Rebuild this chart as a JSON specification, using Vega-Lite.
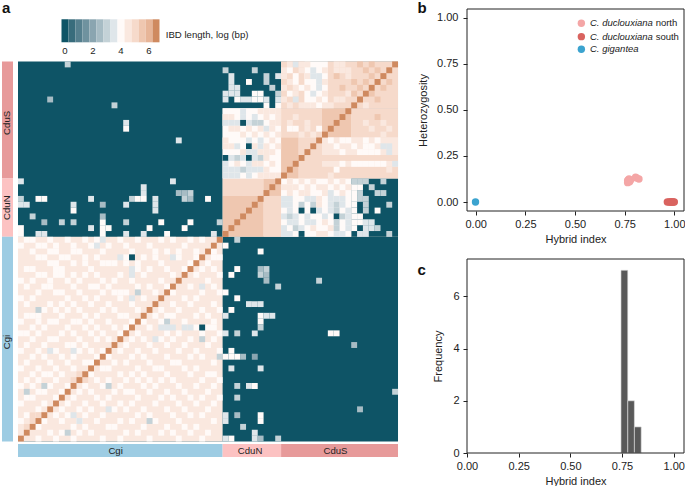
{"$schema":"https://vega.github.io/schema/vega-lite/v6.json","padding":0,"background":"white","spacing":7,"config":{"view":{"stroke":null},"font":"Liberation Sans"},
"datasets":{
"legendCells":[{"v":0,"a":-0.25,"b":0.25},{"v":0.5,"a":0.25,"b":0.75},{"v":1,"a":0.75,"b":1.25},{"v":1.5,"a":1.25,"b":1.75},{"v":2,"a":1.75,"b":2.25},{"v":2.5,"a":2.25,"b":2.75},{"v":3,"a":2.75,"b":3.25},{"v":3.5,"a":3.25,"b":3.75},{"v":4,"a":3.75,"b":4.25},{"v":4.5,"a":4.25,"b":4.75},{"v":5,"a":4.75,"b":5.25},{"v":5.5,"a":5.25,"b":5.75},{"v":6,"a":5.75,"b":6.25},{"v":6.5,"a":6.25,"b":6.75}],
"blocks":[{"a":-0.5,"b":64.5,"t":-0.5,"u":64.5,"v":0},{"a":34.5,"b":64.5,"t":7.5,"u":29.5,"v":4.5},{"a":44.5,"b":64.5,"t":-0.5,"u":7.5,"v":4.5},{"a":56.5,"b":64.5,"t":19.5,"u":29.5,"v":0},{"a":-0.5,"b":34.5,"t":29.5,"u":64.5,"v":4.5},{"a":34.5,"b":41.5,"t":19.5,"u":22.5,"v":5},{"a":41.5,"b":44.5,"t":19.5,"u":22.5,"v":5.5},{"a":34.5,"b":41.5,"t":22.5,"u":29.5,"v":5.5},{"a":41.5,"b":44.5,"t":22.5,"u":29.5,"v":5},{"a":34.5,"b":44.5,"t":7.5,"u":19.5,"v":4},{"a":44.5,"b":56.5,"t":19.5,"u":29.5,"v":4},{"a":44.5,"b":48.5,"t":-0.5,"u":7.5,"v":5},{"a":48.5,"b":52.5,"t":-0.5,"u":7.5,"v":4},{"a":52.5,"b":64.5,"t":-0.5,"u":7.5,"v":5},{"a":44.5,"b":51.5,"t":7.5,"u":12.5,"v":5},{"a":51.5,"b":56.5,"t":7.5,"u":12.5,"v":5.5},{"a":56.5,"b":64.5,"t":7.5,"u":12.5,"v":5},{"a":44.5,"b":47.5,"t":12.5,"u":19.5,"v":5.5},{"a":47.5,"b":51.5,"t":12.5,"u":19.5,"v":5},{"a":51.5,"b":64.5,"t":12.5,"u":15.5,"v":4.5},{"a":51.5,"b":64.5,"t":15.5,"u":16.5,"v":5},{"a":51.5,"b":64.5,"t":16.5,"u":17.5,"v":4.5},{"a":51.5,"b":64.5,"t":17.5,"u":19.5,"v":5}],
"cells":[
{"c":8,"t":0,"v":3},{"c":5,"t":6,"v":2.5},{"c":16,"t":7,"v":3},{"c":18,"t":10,"v":3.5},{"c":18,"t":11,"v":4},{"c":27,"t":13,"v":3.5},
{"c":0,"t":20,"v":3.5},{"c":26,"t":20,"v":3.5},{"c":21,"t":21,"v":3.5},{"c":21,"t":22,"v":3.5},{"c":27,"t":22,"v":2.5},{"c":28,"t":22,"v":2.5},{"c":29,"t":22,"v":3},{"c":0,"t":23,"v":3},{"c":3,"t":23,"v":4},{"c":4,"t":23,"v":4},{"c":12,"t":23,"v":3.5},{"c":19,"t":23,"v":3},{"c":20,"t":23,"v":4},{"c":21,"t":23,"v":4},{"c":23,"t":23,"v":3.5},{"c":28,"t":23,"v":3},{"c":29,"t":23,"v":2.5},{"c":32,"t":23,"v":4},{"c":0,"t":24,"v":3.5},{"c":1,"t":24,"v":3.5},{"c":9,"t":24,"v":3.5},{"c":14,"t":24,"v":2.5},{"c":18,"t":24,"v":3.5},{"c":23,"t":24,"v":3.5},{"c":9,"t":25,"v":4},{"c":23,"t":25,"v":3.5},{"c":2,"t":26,"v":3},{"c":14,"t":26,"v":2.5},{"c":4,"t":27,"v":2.5},{"c":7,"t":27,"v":3},{"c":9,"t":27,"v":3},{"c":14,"t":27,"v":4},{"c":18,"t":27,"v":3},{"c":24,"t":27,"v":4},{"c":29,"t":27,"v":4},{"c":34,"t":27,"v":3},{"c":0,"t":28,"v":4},{"c":12,"t":28,"v":3.5},{"c":14,"t":28,"v":4},{"c":15,"t":28,"v":4},{"c":22,"t":28,"v":4},{"c":28,"t":28,"v":4},{"c":0,"t":29,"v":4},{"c":3,"t":29,"v":3.5},{"c":4,"t":29,"v":3.5},{"c":14,"t":29,"v":4},{"c":18,"t":29,"v":3.5},{"c":21,"t":29,"v":3.5},{"c":25,"t":29,"v":4},{"c":33,"t":29,"v":3.5},
{"c":37,"t":30,"v":3},{"c":35,"t":31,"v":4},{"c":41,"t":32,"v":4},{"c":37,"t":35,"v":4},{"c":41,"t":35,"v":2.5},{"c":42,"t":35,"v":3},{"c":36,"t":36,"v":4},{"c":41,"t":36,"v":3},{"c":42,"t":36,"v":2.5},{"c":42,"t":37,"v":2.5},{"c":51,"t":37,"v":3},{"c":44,"t":38,"v":3},{"c":35,"t":39,"v":4},{"c":37,"t":40,"v":4},{"c":39,"t":41,"v":3.5},{"c":40,"t":41,"v":3.5},{"c":41,"t":41,"v":3.5},{"c":36,"t":42,"v":4},{"c":35,"t":43,"v":3.5},{"c":41,"t":43,"v":4},{"c":42,"t":43,"v":3.5},{"c":43,"t":43,"v":3.5},{"c":41,"t":44,"v":4},{"c":41,"t":45,"v":3},{"c":35,"t":46,"v":3.5},{"c":37,"t":46,"v":3},{"c":40,"t":46,"v":3.5},{"c":53,"t":46,"v":4},{"c":54,"t":46,"v":4},{"c":57,"t":48,"v":2.5},{"c":36,"t":49,"v":4},{"c":35,"t":50,"v":4},{"c":36,"t":50,"v":4},{"c":37,"t":50,"v":4},{"c":38,"t":50,"v":2.5},{"c":40,"t":50,"v":2},{"c":36,"t":52,"v":3.5},{"c":41,"t":52,"v":3.5},{"c":37,"t":55,"v":3},{"c":39,"t":55,"v":3.5},{"c":40,"t":55,"v":4},{"c":64,"t":56,"v":3},{"c":37,"t":57,"v":3},{"c":58,"t":59,"v":2.5},{"c":35,"t":60,"v":3.5},{"c":37,"t":60,"v":2.5},{"c":41,"t":60,"v":4},{"c":35,"t":61,"v":3.5},{"c":41,"t":61,"v":4},{"c":38,"t":62,"v":3},{"c":40,"t":63,"v":3.5},{"c":35,"t":64,"v":3.5},{"c":36,"t":64,"v":4},{"c":40,"t":64,"v":3.5},{"c":41,"t":64,"v":2.5},{"c":44,"t":64,"v":3},
{"c":35,"t":1,"v":3},{"c":40,"t":1,"v":3},{"c":44,"t":2,"v":3.5},{"c":42,"t":2,"v":3},{"c":42,"t":3,"v":3},{"c":36,"t":2,"v":3.5},{"c":36,"t":3,"v":3.5},{"c":39,"t":3,"v":4},{"c":36,"t":4,"v":3.5},{"c":37,"t":4,"v":3.5},{"c":43,"t":4,"v":3},{"c":35,"t":5,"v":3.5},{"c":36,"t":5,"v":3.5},{"c":37,"t":5,"v":3.5},{"c":40,"t":5,"v":4},{"c":41,"t":5,"v":4},{"c":44,"t":5,"v":3},{"c":35,"t":6,"v":3.5},{"c":37,"t":6,"v":4},{"c":38,"t":6,"v":3.5},{"c":39,"t":6,"v":3.5},{"c":40,"t":6,"v":4},{"c":41,"t":6,"v":4},{"c":42,"t":6,"v":3.5},{"c":44,"t":6,"v":3.5},{"c":42,"t":7,"v":4},{"c":44,"t":7,"v":4},
{"c":57,"t":20,"v":3},{"c":58,"t":20,"v":3},{"c":59,"t":20,"v":3},{"c":62,"t":20,"v":3},{"c":57,"t":21,"v":4},{"c":58,"t":21,"v":4},{"c":60,"t":21,"v":3},{"c":57,"t":22,"v":4},{"c":58,"t":22,"v":3},{"c":61,"t":22,"v":3},{"c":62,"t":22,"v":3},{"c":57,"t":23,"v":4},{"c":58,"t":23,"v":3},{"c":59,"t":23,"v":3},{"c":57,"t":24,"v":4},{"c":59,"t":24,"v":3},{"c":63,"t":24,"v":3},{"c":57,"t":25,"v":4},{"c":59,"t":25,"v":3},{"c":61,"t":25,"v":4},{"c":57,"t":26,"v":4},{"c":58,"t":26,"v":4},{"c":57,"t":27,"v":4},{"c":58,"t":27,"v":4},{"c":59,"t":27,"v":3.5},{"c":60,"t":27,"v":3.5},{"c":57,"t":28,"v":4},{"c":59,"t":28,"v":3.5},{"c":60,"t":28,"v":3.5},{"c":61,"t":28,"v":3},{"c":58,"t":29,"v":3.5},{"c":59,"t":29,"v":3.5},{"c":63,"t":29,"v":3},
{"c":38,"t":8,"v":3.5},{"c":41,"t":8,"v":4.5},{"c":42,"t":8,"v":4.5},{"c":43,"t":8,"v":4.5},{"c":44,"t":8,"v":4.5},{"c":35,"t":9,"v":4.5},{"c":36,"t":9,"v":4.5},{"c":38,"t":9,"v":3.5},{"c":40,"t":9,"v":3.5},{"c":42,"t":9,"v":4.5},{"c":44,"t":9,"v":4.5},{"c":35,"t":10,"v":3.5},{"c":36,"t":10,"v":3.5},{"c":37,"t":10,"v":3.5},{"c":38,"t":10,"v":0},{"c":39,"t":10,"v":3.5},{"c":40,"t":10,"v":3},{"c":41,"t":10,"v":3},{"c":43,"t":10,"v":4.5},{"c":44,"t":10,"v":4.5},{"c":36,"t":11,"v":4.5},{"c":37,"t":11,"v":4.5},{"c":39,"t":11,"v":4.5},{"c":41,"t":11,"v":4.5},{"c":42,"t":11,"v":3.5},{"c":43,"t":11,"v":4.5},{"c":38,"t":12,"v":4.5},{"c":40,"t":12,"v":4.5},{"c":42,"t":12,"v":4.5},{"c":44,"t":12,"v":4.5},{"c":35,"t":13,"v":4.5},{"c":39,"t":13,"v":3.5},{"c":41,"t":13,"v":3.5},{"c":43,"t":13,"v":4.5},{"c":35,"t":14,"v":4.5},{"c":36,"t":14,"v":4.5},{"c":37,"t":14,"v":3.5},{"c":39,"t":14,"v":0},{"c":40,"t":14,"v":4.5},{"c":41,"t":14,"v":3.5},{"c":42,"t":14,"v":4.5},{"c":44,"t":14,"v":4.5},{"c":38,"t":15,"v":4.5},{"c":39,"t":15,"v":3.5},{"c":40,"t":15,"v":3.5},{"c":41,"t":15,"v":4.5},{"c":42,"t":15,"v":4.5},{"c":43,"t":15,"v":4.5},{"c":35,"t":16,"v":0},{"c":36,"t":16,"v":3.5},{"c":37,"t":16,"v":3},{"c":38,"t":16,"v":3.5},{"c":39,"t":16,"v":0},{"c":40,"t":16,"v":3.5},{"c":41,"t":16,"v":3},{"c":42,"t":16,"v":4.5},{"c":35,"t":17,"v":3.5},{"c":37,"t":17,"v":4.5},{"c":39,"t":17,"v":3.5},{"c":40,"t":17,"v":4.5},{"c":41,"t":17,"v":4.5},{"c":43,"t":17,"v":4.5},{"c":35,"t":18,"v":3.5},{"c":36,"t":18,"v":3.5},{"c":37,"t":18,"v":3.5},{"c":38,"t":18,"v":3},{"c":39,"t":18,"v":3.5},{"c":40,"t":18,"v":3.5},{"c":41,"t":18,"v":3.5},{"c":42,"t":18,"v":4.5},{"c":35,"t":19,"v":3.5},{"c":36,"t":19,"v":3.5},{"c":37,"t":19,"v":3.5},{"c":39,"t":19,"v":3.5},{"c":41,"t":19,"v":4.5},{"c":42,"t":19,"v":4.5},{"c":43,"t":19,"v":4.5},{"c":44,"t":19,"v":4.5},
{"c":46,"t":20,"v":4.5},{"c":48,"t":20,"v":4.5},{"c":50,"t":20,"v":4.5},{"c":53,"t":20,"v":4.5},{"c":55,"t":20,"v":4.5},{"c":45,"t":21,"v":4.5},{"c":46,"t":21,"v":4.5},{"c":47,"t":21,"v":4.5},{"c":49,"t":21,"v":4.5},{"c":51,"t":21,"v":4.5},{"c":52,"t":21,"v":4.5},{"c":54,"t":21,"v":4.5},{"c":56,"t":21,"v":4.5},{"c":46,"t":22,"v":4.5},{"c":48,"t":22,"v":4.5},{"c":49,"t":22,"v":4.5},{"c":52,"t":22,"v":4.5},{"c":53,"t":22,"v":3.5},{"c":55,"t":22,"v":4.5},{"c":45,"t":23,"v":3.5},{"c":46,"t":23,"v":3.5},{"c":49,"t":23,"v":3.5},{"c":50,"t":23,"v":3.5},{"c":51,"t":23,"v":4.5},{"c":53,"t":23,"v":3.5},{"c":54,"t":23,"v":3.5},{"c":55,"t":23,"v":3.5},{"c":45,"t":24,"v":3.5},{"c":46,"t":24,"v":3.5},{"c":48,"t":24,"v":3},{"c":50,"t":24,"v":3},{"c":51,"t":24,"v":4.5},{"c":53,"t":24,"v":3.5},{"c":54,"t":24,"v":3},{"c":55,"t":24,"v":3.5},{"c":46,"t":25,"v":3.5},{"c":48,"t":25,"v":0},{"c":50,"t":25,"v":0},{"c":51,"t":25,"v":3.5},{"c":53,"t":25,"v":3.5},{"c":54,"t":25,"v":3},{"c":56,"t":25,"v":3.5},{"c":45,"t":26,"v":3.5},{"c":46,"t":26,"v":3},{"c":47,"t":26,"v":3.5},{"c":49,"t":26,"v":3.5},{"c":52,"t":26,"v":3.5},{"c":54,"t":26,"v":0},{"c":55,"t":26,"v":3},{"c":56,"t":26,"v":3.5},{"c":46,"t":27,"v":3.5},{"c":47,"t":27,"v":3.5},{"c":49,"t":27,"v":3.5},{"c":50,"t":27,"v":3.5},{"c":52,"t":27,"v":4.5},{"c":54,"t":27,"v":3},{"c":56,"t":27,"v":3.5},{"c":45,"t":28,"v":3.5},{"c":47,"t":28,"v":3},{"c":48,"t":28,"v":3.5},{"c":50,"t":28,"v":4.5},{"c":53,"t":28,"v":4.5},{"c":54,"t":28,"v":3},{"c":56,"t":28,"v":3.5},{"c":45,"t":29,"v":3.5},{"c":46,"t":29,"v":3.5},{"c":48,"t":29,"v":0},{"c":51,"t":29,"v":4.5},{"c":52,"t":29,"v":4.5},{"c":54,"t":29,"v":3.5},{"c":55,"t":29,"v":3.5},
{"c":46,"t":0,"v":4.5},{"c":47,"t":0,"v":3.5},{"c":48,"t":0,"v":4.5},{"c":45,"t":1,"v":4.5},{"c":46,"t":1,"v":4},{"c":48,"t":1,"v":4.5},{"c":47,"t":2,"v":4},{"c":45,"t":2,"v":4.5},{"c":46,"t":3,"v":4.5},{"c":47,"t":3,"v":4},{"c":45,"t":4,"v":4.5},{"c":47,"t":4,"v":4.5},{"c":48,"t":4,"v":4},{"c":46,"t":5,"v":4},{"c":47,"t":5,"v":4.5},{"c":45,"t":6,"v":4.5},{"c":47,"t":6,"v":3.5},{"c":46,"t":7,"v":4.5},{"c":48,"t":7,"v":4.5},{"c":49,"t":0,"v":4.5},{"c":50,"t":1,"v":3.5},{"c":52,"t":1,"v":4.5},{"c":49,"t":2,"v":4.5},{"c":50,"t":2,"v":3.5},{"c":51,"t":2,"v":3.5},{"c":51,"t":3,"v":3.5},{"c":52,"t":3,"v":4.5},{"c":49,"t":4,"v":4.5},{"c":51,"t":4,"v":3.5},{"c":50,"t":5,"v":3.5},{"c":52,"t":5,"v":4.5},{"c":51,"t":6,"v":4.5},{"c":49,"t":7,"v":4.5},{"c":50,"t":7,"v":4.5},{"c":52,"t":7,"v":4.5},
{"c":54,"t":0,"v":4.5},{"c":55,"t":0,"v":4.5},{"c":58,"t":0,"v":5.5},{"c":60,"t":0,"v":5.5},{"c":54,"t":1,"v":4.5},{"c":55,"t":1,"v":4.5},{"c":56,"t":1,"v":4.5},{"c":59,"t":1,"v":5.5},{"c":61,"t":1,"v":5.5},{"c":54,"t":2,"v":5.5},{"c":56,"t":2,"v":4.5},{"c":60,"t":2,"v":5.5},{"c":62,"t":2,"v":5.5},{"c":57,"t":3,"v":5.5},{"c":59,"t":3,"v":5.5},{"c":61,"t":3,"v":5.5},{"c":63,"t":3,"v":5.5},{"c":55,"t":4,"v":5.5},{"c":58,"t":4,"v":5.5},{"c":62,"t":4,"v":5.5},{"c":56,"t":5,"v":4.5},{"c":57,"t":5,"v":5.5},{"c":60,"t":5,"v":5.5},{"c":54,"t":6,"v":4.5},{"c":55,"t":6,"v":4.5},{"c":58,"t":6,"v":5.5},{"c":61,"t":6,"v":5.5},{"c":53,"t":7,"v":4.5},{"c":59,"t":7,"v":4.5},
{"c":47,"t":9,"v":4.5},{"c":61,"t":9,"v":5.5},{"c":46,"t":10,"v":4.5},{"c":49,"t":10,"v":4.5},{"c":59,"t":10,"v":4.5},{"c":62,"t":10,"v":4.5},{"c":46,"t":11,"v":4},{"c":47,"t":11,"v":4},{"c":49,"t":11,"v":4.5},{"c":51,"t":11,"v":4},{"c":60,"t":11,"v":4.5},{"c":63,"t":11,"v":4.5},{"c":48,"t":12,"v":4.5},{"c":50,"t":12,"v":4.5},{"c":62,"t":12,"v":4.5},
{"c":53,"t":13,"v":4},{"c":55,"t":13,"v":4},{"c":56,"t":13,"v":4},{"c":59,"t":13,"v":4},{"c":61,"t":13,"v":4},{"c":54,"t":14,"v":4},{"c":57,"t":14,"v":4},{"c":59,"t":14,"v":4},{"c":60,"t":14,"v":4},{"c":62,"t":14,"v":3.5},{"c":63,"t":14,"v":3.5},{"c":55,"t":15,"v":4},{"c":58,"t":15,"v":4},{"c":59,"t":15,"v":4},{"c":60,"t":15,"v":4},{"c":61,"t":15,"v":4},{"c":63,"t":15,"v":3.5},{"c":55,"t":17,"v":4},{"c":57,"t":17,"v":4},{"c":58,"t":17,"v":4},{"c":59,"t":17,"v":4},{"c":60,"t":17,"v":4},{"c":61,"t":17,"v":4},{"c":62,"t":17,"v":4},{"c":64,"t":17,"v":3.5},{"c":54,"t":18,"v":4},{"c":63,"t":18,"v":4.5},{"c":53,"t":19,"v":4.5},
{"c":1,"t":30,"v":4},{"c":2,"t":30,"v":4},{"c":5,"t":30,"v":4},{"c":8,"t":30,"v":4},{"c":11,"t":30,"v":4},{"c":13,"t":30,"v":4},{"c":17,"t":30,"v":4},{"c":20,"t":30,"v":4},{"c":24,"t":30,"v":4},{"c":26,"t":30,"v":4},{"c":29,"t":30,"v":4},{"c":31,"t":30,"v":4},
{"c":0,"t":31,"v":4},{"c":3,"t":31,"v":4},{"c":4,"t":31,"v":4},{"c":6,"t":31,"v":4},{"c":9,"t":31,"v":4},{"c":12,"t":31,"v":4},{"c":15,"t":31,"v":4},{"c":18,"t":31,"v":4},{"c":22,"t":31,"v":4},{"c":28,"t":31,"v":4},{"c":33,"t":31,"v":4},
{"c":2,"t":32,"v":4},{"c":5,"t":32,"v":4},{"c":6,"t":32,"v":4},{"c":9,"t":32,"v":4},{"c":10,"t":32,"v":4},{"c":14,"t":32,"v":4},{"c":19,"t":32,"v":4},{"c":23,"t":32,"v":4},{"c":25,"t":32,"v":4},{"c":27,"t":32,"v":4},{"c":30,"t":32,"v":4},{"c":32,"t":32,"v":4},{"c":33,"t":32,"v":4},
{"c":3,"t":33,"v":4},{"c":4,"t":33,"v":4},{"c":7,"t":33,"v":4},{"c":8,"t":33,"v":4},{"c":11,"t":33,"v":4},{"c":13,"t":33,"v":4},{"c":18,"t":33,"v":4},{"c":21,"t":33,"v":4},{"c":23,"t":33,"v":4},{"c":27,"t":33,"v":4},{"c":30,"t":33,"v":4},{"c":33,"t":33,"v":4},{"c":34,"t":33,"v":4},
{"c":5,"t":34,"v":4},{"c":6,"t":34,"v":4},{"c":9,"t":34,"v":4},{"c":11,"t":34,"v":4},{"c":14,"t":34,"v":4},{"c":15,"t":34,"v":4},{"c":16,"t":34,"v":4},{"c":18,"t":34,"v":4},{"c":20,"t":34,"v":4},{"c":24,"t":34,"v":4},{"c":29,"t":34,"v":4},{"c":32,"t":34,"v":4},
{"c":1,"t":35,"v":4},{"c":2,"t":35,"v":4},{"c":6,"t":35,"v":4},{"c":7,"t":35,"v":4},{"c":12,"t":35,"v":4},{"c":20,"t":35,"v":4},{"c":22,"t":35,"v":4},{"c":25,"t":35,"v":4},{"c":28,"t":35,"v":4},{"c":31,"t":35,"v":4},{"c":33,"t":35,"v":4},
{"c":3,"t":36,"v":4},{"c":4,"t":36,"v":4},{"c":6,"t":36,"v":4},{"c":7,"t":36,"v":4},{"c":9,"t":36,"v":4},{"c":11,"t":36,"v":4},{"c":13,"t":36,"v":4},{"c":17,"t":36,"v":4},{"c":21,"t":36,"v":4},{"c":26,"t":36,"v":4},{"c":30,"t":36,"v":4},{"c":34,"t":36,"v":4},
{"c":0,"t":37,"v":4},{"c":2,"t":37,"v":4},{"c":5,"t":37,"v":4},{"c":8,"t":37,"v":4},{"c":10,"t":37,"v":4},{"c":14,"t":37,"v":4},{"c":16,"t":37,"v":4},{"c":19,"t":37,"v":4},{"c":24,"t":37,"v":4},{"c":27,"t":37,"v":4},{"c":32,"t":37,"v":4},
{"c":1,"t":38,"v":4},{"c":4,"t":38,"v":4},{"c":5,"t":38,"v":4},{"c":9,"t":38,"v":4},{"c":12,"t":38,"v":4},{"c":13,"t":38,"v":4},{"c":15,"t":38,"v":4},{"c":20,"t":38,"v":4},{"c":22,"t":38,"v":4},{"c":25,"t":38,"v":4},{"c":29,"t":38,"v":4},{"c":33,"t":38,"v":4},
{"c":3,"t":39,"v":4},{"c":6,"t":39,"v":4},{"c":7,"t":39,"v":4},{"c":10,"t":39,"v":4},{"c":14,"t":39,"v":4},{"c":16,"t":39,"v":4},{"c":17,"t":39,"v":4},{"c":18,"t":39,"v":4},{"c":23,"t":39,"v":4},{"c":26,"t":39,"v":4},{"c":31,"t":39,"v":4},{"c":34,"t":39,"v":4},
{"c":0,"t":40,"v":4},{"c":2,"t":40,"v":4},{"c":8,"t":40,"v":4},{"c":11,"t":40,"v":4},{"c":13,"t":40,"v":4},{"c":17,"t":40,"v":4},{"c":21,"t":40,"v":4},{"c":24,"t":40,"v":4},{"c":28,"t":40,"v":4},{"c":30,"t":40,"v":4},
{"c":1,"t":41,"v":4},{"c":5,"t":41,"v":4},{"c":7,"t":41,"v":4},{"c":9,"t":41,"v":4},{"c":12,"t":41,"v":4},{"c":15,"t":41,"v":4},{"c":19,"t":41,"v":4},{"c":23,"t":41,"v":4},{"c":26,"t":41,"v":4},{"c":29,"t":41,"v":4},{"c":33,"t":41,"v":4},
{"c":4,"t":42,"v":4},{"c":6,"t":42,"v":4},{"c":8,"t":42,"v":4},{"c":10,"t":42,"v":4},{"c":14,"t":42,"v":4},{"c":16,"t":42,"v":4},{"c":20,"t":42,"v":4},{"c":22,"t":42,"v":4},{"c":24,"t":42,"v":4},{"c":27,"t":42,"v":4},{"c":31,"t":42,"v":4},{"c":34,"t":42,"v":4},
{"c":1,"t":43,"v":4},{"c":2,"t":43,"v":4},{"c":3,"t":43,"v":4},{"c":7,"t":43,"v":4},{"c":11,"t":43,"v":4},{"c":13,"t":43,"v":4},{"c":17,"t":43,"v":4},{"c":18,"t":43,"v":4},{"c":23,"t":43,"v":4},{"c":25,"t":43,"v":4},{"c":26,"t":43,"v":4},{"c":30,"t":43,"v":4},{"c":32,"t":43,"v":4},
{"c":0,"t":44,"v":4},{"c":3,"t":44,"v":4},{"c":5,"t":44,"v":4},{"c":6,"t":44,"v":4},{"c":9,"t":44,"v":4},{"c":10,"t":44,"v":4},{"c":12,"t":44,"v":4},{"c":15,"t":44,"v":4},{"c":19,"t":44,"v":4},{"c":21,"t":44,"v":4},{"c":24,"t":44,"v":4},{"c":28,"t":44,"v":4},{"c":33,"t":44,"v":4},
{"c":2,"t":45,"v":4},{"c":4,"t":45,"v":4},{"c":8,"t":45,"v":4},{"c":11,"t":45,"v":4},{"c":13,"t":45,"v":4},{"c":16,"t":45,"v":4},{"c":18,"t":45,"v":4},{"c":22,"t":45,"v":4},{"c":30,"t":45,"v":4},{"c":32,"t":45,"v":4},{"c":33,"t":45,"v":4},
{"c":0,"t":46,"v":4},{"c":1,"t":46,"v":4},{"c":3,"t":46,"v":4},{"c":7,"t":46,"v":4},{"c":9,"t":46,"v":4},{"c":12,"t":46,"v":4},{"c":14,"t":46,"v":4},{"c":17,"t":46,"v":4},{"c":20,"t":46,"v":4},{"c":25,"t":46,"v":4},{"c":27,"t":46,"v":4},{"c":31,"t":46,"v":4},{"c":34,"t":46,"v":4},
{"c":2,"t":47,"v":4},{"c":5,"t":47,"v":4},{"c":6,"t":47,"v":4},{"c":10,"t":47,"v":4},{"c":13,"t":47,"v":4},{"c":15,"t":47,"v":4},{"c":19,"t":47,"v":4},{"c":21,"t":47,"v":4},{"c":24,"t":47,"v":4},{"c":26,"t":47,"v":4},{"c":29,"t":47,"v":4},{"c":33,"t":47,"v":4},
{"c":1,"t":48,"v":4},{"c":4,"t":48,"v":4},{"c":8,"t":48,"v":4},{"c":9,"t":48,"v":4},{"c":11,"t":48,"v":4},{"c":16,"t":48,"v":4},{"c":18,"t":48,"v":4},{"c":22,"t":48,"v":4},{"c":25,"t":48,"v":4},{"c":28,"t":48,"v":4},{"c":32,"t":48,"v":4},
{"c":0,"t":49,"v":4},{"c":3,"t":49,"v":4},{"c":6,"t":49,"v":4},{"c":10,"t":49,"v":4},{"c":12,"t":49,"v":4},{"c":14,"t":49,"v":4},{"c":17,"t":49,"v":4},{"c":20,"t":49,"v":4},{"c":23,"t":49,"v":4},{"c":27,"t":49,"v":4},{"c":30,"t":49,"v":4},{"c":34,"t":49,"v":4},
{"c":2,"t":50,"v":4},{"c":4,"t":50,"v":4},{"c":7,"t":50,"v":4},{"c":9,"t":50,"v":4},{"c":13,"t":50,"v":4},{"c":15,"t":50,"v":4},{"c":19,"t":50,"v":4},{"c":21,"t":50,"v":4},{"c":25,"t":50,"v":4},{"c":29,"t":50,"v":4},{"c":31,"t":50,"v":4},
{"c":1,"t":51,"v":4},{"c":5,"t":51,"v":4},{"c":8,"t":51,"v":4},{"c":11,"t":51,"v":4},{"c":12,"t":51,"v":4},{"c":16,"t":51,"v":4},{"c":18,"t":51,"v":4},{"c":22,"t":51,"v":4},{"c":26,"t":51,"v":4},{"c":27,"t":51,"v":4},{"c":33,"t":51,"v":4},
{"c":0,"t":52,"v":4},{"c":3,"t":52,"v":4},{"c":6,"t":52,"v":4},{"c":9,"t":52,"v":4},{"c":14,"t":52,"v":4},{"c":15,"t":52,"v":4},{"c":20,"t":52,"v":4},{"c":23,"t":52,"v":4},{"c":24,"t":52,"v":4},{"c":28,"t":52,"v":4},{"c":30,"t":52,"v":4},
{"c":2,"t":53,"v":4},{"c":4,"t":53,"v":4},{"c":5,"t":53,"v":4},{"c":7,"t":53,"v":4},{"c":12,"t":53,"v":4},{"c":17,"t":53,"v":4},{"c":19,"t":53,"v":4},{"c":21,"t":53,"v":4},{"c":25,"t":53,"v":4},{"c":29,"t":53,"v":4},{"c":32,"t":53,"v":4},{"c":33,"t":53,"v":4},
{"c":1,"t":54,"v":4},{"c":3,"t":54,"v":4},{"c":6,"t":54,"v":4},{"c":13,"t":54,"v":4},{"c":15,"t":54,"v":4},{"c":18,"t":54,"v":4},{"c":20,"t":54,"v":4},{"c":22,"t":54,"v":4},{"c":24,"t":54,"v":4},{"c":26,"t":54,"v":4},{"c":31,"t":54,"v":4},{"c":34,"t":54,"v":4},
{"c":0,"t":55,"v":4},{"c":2,"t":55,"v":4},{"c":5,"t":55,"v":4},{"c":8,"t":55,"v":4},{"c":11,"t":55,"v":4},{"c":14,"t":55,"v":4},{"c":17,"t":55,"v":4},{"c":21,"t":55,"v":4},{"c":23,"t":55,"v":4},{"c":27,"t":55,"v":4},{"c":30,"t":55,"v":4},{"c":33,"t":55,"v":4},
{"c":3,"t":56,"v":4},{"c":4,"t":56,"v":4},{"c":7,"t":56,"v":4},{"c":10,"t":56,"v":4},{"c":12,"t":56,"v":4},{"c":16,"t":56,"v":4},{"c":18,"t":56,"v":4},{"c":19,"t":56,"v":4},{"c":22,"t":56,"v":4},{"c":25,"t":56,"v":4},{"c":28,"t":56,"v":4},{"c":32,"t":56,"v":4},
{"c":1,"t":57,"v":4},{"c":2,"t":57,"v":4},{"c":6,"t":57,"v":4},{"c":9,"t":57,"v":4},{"c":13,"t":57,"v":4},{"c":15,"t":57,"v":4},{"c":20,"t":57,"v":4},{"c":24,"t":57,"v":4},{"c":26,"t":57,"v":4},{"c":29,"t":57,"v":4},{"c":31,"t":57,"v":4},{"c":34,"t":57,"v":4},
{"c":0,"t":58,"v":4},{"c":4,"t":58,"v":4},{"c":8,"t":58,"v":4},{"c":11,"t":58,"v":4},{"c":14,"t":58,"v":4},{"c":17,"t":58,"v":4},{"c":19,"t":58,"v":4},{"c":23,"t":58,"v":4},{"c":27,"t":58,"v":4},{"c":30,"t":58,"v":4},{"c":33,"t":58,"v":4},
{"c":3,"t":59,"v":4},{"c":5,"t":59,"v":4},{"c":7,"t":59,"v":4},{"c":10,"t":59,"v":4},{"c":12,"t":59,"v":4},{"c":16,"t":59,"v":4},{"c":18,"t":59,"v":4},{"c":21,"t":59,"v":4},{"c":25,"t":59,"v":4},{"c":28,"t":59,"v":4},{"c":32,"t":59,"v":4},
{"c":1,"t":60,"v":4},{"c":2,"t":60,"v":4},{"c":6,"t":60,"v":4},{"c":8,"t":60,"v":4},{"c":11,"t":60,"v":4},{"c":14,"t":60,"v":4},{"c":20,"t":60,"v":4},{"c":22,"t":60,"v":4},{"c":26,"t":60,"v":4},{"c":29,"t":60,"v":4},{"c":31,"t":60,"v":4},
{"c":0,"t":61,"v":4},{"c":4,"t":61,"v":4},{"c":7,"t":61,"v":4},{"c":10,"t":61,"v":4},{"c":13,"t":61,"v":4},{"c":17,"t":61,"v":4},{"c":19,"t":61,"v":4},{"c":23,"t":61,"v":4},{"c":27,"t":61,"v":4},{"c":33,"t":61,"v":4},
{"c":2,"t":62,"v":4},{"c":3,"t":62,"v":4},{"c":9,"t":62,"v":4},{"c":11,"t":62,"v":4},{"c":15,"t":62,"v":4},{"c":16,"t":62,"v":4},{"c":21,"t":62,"v":4},{"c":25,"t":62,"v":4},{"c":28,"t":62,"v":4},{"c":30,"t":62,"v":4},
{"c":1,"t":63,"v":4},{"c":5,"t":63,"v":4},{"c":7,"t":63,"v":4},{"c":10,"t":63,"v":4},{"c":12,"t":63,"v":4},{"c":18,"t":63,"v":4},{"c":20,"t":63,"v":4},{"c":24,"t":63,"v":4},{"c":26,"t":63,"v":4},{"c":29,"t":63,"v":4},{"c":32,"t":63,"v":4},
{"c":0,"t":64,"v":4},{"c":3,"t":64,"v":4},{"c":6,"t":64,"v":4},{"c":9,"t":64,"v":4},{"c":14,"t":64,"v":4},{"c":17,"t":64,"v":4},{"c":22,"t":64,"v":4},{"c":27,"t":64,"v":4},{"c":31,"t":64,"v":4},
{"c":14,"t":30,"v":3.5},{"c":13,"t":31,"v":3.5},{"c":17,"t":33,"v":3.5},{"c":26,"t":33,"v":3.5},{"c":19,"t":33,"v":0},{"c":19,"t":35,"v":3.5},{"c":19,"t":36,"v":3.5},{"c":31,"t":38,"v":3.5},{"c":20,"t":39,"v":3},{"c":19,"t":40,"v":3.5},{"c":3,"t":42,"v":3},{"c":25,"t":44,"v":3},{"c":24,"t":45,"v":3.5},{"c":25,"t":45,"v":3.5},{"c":26,"t":45,"v":3.5},{"c":28,"t":45,"v":3.5},{"c":29,"t":45,"v":3.5},{"c":31,"t":45,"v":0},{"c":23,"t":47,"v":3.5},{"c":31,"t":47,"v":3},{"c":5,"t":49,"v":3.5},{"c":9,"t":49,"v":3.5},{"c":34,"t":50,"v":3},{"c":4,"t":55,"v":3},{"c":15,"t":55,"v":3},{"c":1,"t":56,"v":3},{"c":15,"t":59,"v":3.5},{"c":9,"t":60,"v":3.5},{"c":10,"t":61,"v":3.5},{"c":22,"t":61,"v":3},{"c":8,"t":63,"v":3},{"c":10,"t":53,"v":5},{"c":11,"t":53,"v":5},{"c":9,"t":54,"v":5},{"c":11,"t":54,"v":5},{"c":2,"t":60,"v":5},{"c":3,"t":60,"v":5},{"c":2,"t":61,"v":5},{"c":1,"t":62,"v":5},
{"c":64,"t":0,"v":6.5},{"c":63,"t":1,"v":6.5},{"c":62,"t":2,"v":6.5},{"c":61,"t":3,"v":6.5},{"c":60,"t":4,"v":6.5},{"c":59,"t":5,"v":6.5},{"c":58,"t":6,"v":6.5},{"c":57,"t":7,"v":6.5},{"c":56,"t":8,"v":6.5},{"c":55,"t":9,"v":6.5},{"c":54,"t":10,"v":6.5},{"c":53,"t":11,"v":6.5},{"c":52,"t":12,"v":6.5},{"c":51,"t":13,"v":6.5},{"c":50,"t":14,"v":6.5},{"c":49,"t":15,"v":6.5},{"c":48,"t":16,"v":6.5},{"c":47,"t":17,"v":6.5},{"c":46,"t":18,"v":6.5},{"c":45,"t":19,"v":6.5},{"c":44,"t":20,"v":6.5},{"c":43,"t":21,"v":6.5},{"c":42,"t":22,"v":6.5},{"c":41,"t":23,"v":6.5},{"c":40,"t":24,"v":6.5},{"c":39,"t":25,"v":6.5},{"c":38,"t":26,"v":6.5},{"c":37,"t":27,"v":6.5},{"c":36,"t":28,"v":6.5},{"c":35,"t":29,"v":6.5},{"c":34,"t":30,"v":6.5},{"c":33,"t":31,"v":6.5},{"c":32,"t":32,"v":6.5},{"c":31,"t":33,"v":6.5},{"c":30,"t":34,"v":6.5},{"c":29,"t":35,"v":6.5},{"c":28,"t":36,"v":6.5},{"c":27,"t":37,"v":6.5},{"c":26,"t":38,"v":6.5},{"c":25,"t":39,"v":6.5},{"c":24,"t":40,"v":6.5},{"c":23,"t":41,"v":6.5},{"c":22,"t":42,"v":6.5},{"c":21,"t":43,"v":6.5},{"c":20,"t":44,"v":6.5},{"c":19,"t":45,"v":6.5},{"c":18,"t":46,"v":6.5},{"c":17,"t":47,"v":6.5},{"c":16,"t":48,"v":6.5},{"c":15,"t":49,"v":6.5},{"c":14,"t":50,"v":6.5},{"c":13,"t":51,"v":6.5},{"c":12,"t":52,"v":6.5},{"c":11,"t":53,"v":6.5},{"c":10,"t":54,"v":6.5},{"c":9,"t":55,"v":6.5},{"c":8,"t":56,"v":6.5},{"c":7,"t":57,"v":6.5},{"c":6,"t":58,"v":6.5},{"c":5,"t":59,"v":6.5},{"c":4,"t":60,"v":6.5},{"c":3,"t":61,"v":6.5},{"c":2,"t":62,"v":6.5},{"c":1,"t":63,"v":6.5},{"c":0,"t":64,"v":6.5}],
"bars":[{"s":"CduS","a":-3.237,"b":-1.355,"t":-0.5,"u":19.5},{"s":"CduN","a":-3.237,"b":-1.355,"t":19.5,"u":29.5},{"s":"Cgi","a":-3.237,"b":-1.355,"t":29.5,"u":64.5},{"s":"Cgi","a":-0.5,"b":34.5,"t":64.93,"u":67.15},{"s":"CduN","a":34.5,"b":44.5,"t":64.93,"u":67.15},{"s":"CduS","a":44.5,"b":64.5,"t":64.93,"u":67.15}],
"barLabels":[{"s":"CduS","x":-2.3,"y":10,"r":270},{"s":"CduN","x":-2.3,"y":24.5,"r":270},{"s":"Cgi","x":-2.3,"y":47.5,"r":270},{"s":"Cgi","x":16.2,"y":66.05,"r":0},{"s":"CduN","x":39.2,"y":66.05,"r":0},{"s":"CduS","x":53.8,"y":66.05,"r":0}],
"points":[{"sp":"north","hi":0.765,"h":0.105},{"sp":"north","hi":0.77,"h":0.115},{"sp":"north","hi":0.768,"h":0.12},{"sp":"north","hi":0.775,"h":0.11},{"sp":"north","hi":0.772,"h":0.125},{"sp":"north","hi":0.78,"h":0.12},{"sp":"north","hi":0.765,"h":0.115},{"sp":"north","hi":0.805,"h":0.135},{"sp":"north","hi":0.81,"h":0.13},{"sp":"north","hi":0.822,"h":0.125},{"sp":"south","hi":0.965,"h":0},{"sp":"south","hi":0.975,"h":0},{"sp":"south","hi":0.98,"h":0},{"sp":"south","hi":0.985,"h":0},{"sp":"south","hi":0.99,"h":0},{"sp":"south","hi":0.995,"h":0},{"sp":"south","hi":1,"h":0},{"sp":"gigantea","hi":-0.001,"h":0},{"sp":"north","hi":0.532,"h":0.97},{"sp":"south","hi":0.532,"h":0.897},{"sp":"gigantea","hi":0.532,"h":0.829}],
"legendText":[{"l":"C. duclouxiana","hi":0.5755,"h":0.97},{"l":"C. duclouxiana","hi":0.5755,"h":0.897},{"l":"C. gigantea","hi":0.5755,"h":0.829}],
"legendText2":[{"l":"north","hi":0.906,"h":0.97},{"l":"south","hi":0.906,"h":0.897}],
"hist":[{"a":0.745,"b":0.778,"n":7},{"a":0.778,"b":0.81,"n":2},{"a":0.81,"b":0.843,"n":1}]
},
"hconcat":[
{"spacing":0,"vconcat":[
{"width":410,"height":52,"layer":[
{"data":{"name":"legendCells"},"mark":{"type":"rect"},"encoding":{"x":{"field":"a","type":"quantitative","scale":{"domain":[-4.643,24.643],"nice":false,"zero":false},"axis":null},"x2":{"field":"b"},"y":{"datum":18.3,"type":"quantitative","scale":{"domain":[8,60],"reverse":true,"nice":false,"zero":false},"axis":null},"y2":{"datum":41.3},"color":{"field":"v","type":"ordinal","legend":null,"scale":{"domain":[0,0.5,1,1.5,2,2.5,3,3.5,4,4.5,5,5.5,6,6.5],"range":["#0e5466","#386c7c","#557f8e","#6f929f","#8aa5b0","#a7bcc4","#c4d2d7","#dfe6ea","#fffaf8","#fae8df","#f6dacb","#efc7b0","#e7b598","#cf8a60"]}}}},
{"data":{"values":[{"v":0,"l":"0"},{"v":2,"l":"2"},{"v":4,"l":"4"},{"v":6,"l":"6"}]},"mark":{"type":"text","fontSize":9.6,"color":"#222","align":"center","baseline":"middle"},"encoding":{"x":{"field":"v","type":"quantitative"},"y":{"datum":49.5,"type":"quantitative"},"text":{"field":"l"}}},
{"data":{"values":[{"x":7.2,"l":"IBD length, log (bp)"}]},"mark":{"type":"text","fontSize":9.6,"color":"#222","align":"left","baseline":"middle"},"encoding":{"x":{"field":"x","type":"quantitative"},"y":{"datum":34,"type":"quantitative"},"text":{"field":"l"}}},
{"data":{"values":[{"x":-4.5,"l":"a"}]},"mark":{"type":"text","fontSize":15,"fontWeight":"bold","color":"#111","align":"left","baseline":"alphabetic"},"encoding":{"x":{"field":"x","type":"quantitative"},"y":{"datum":12,"type":"quantitative"},"text":{"field":"l"}}}
]},
{"width":410,"height":400,"layer":[
{"data":{"name":"blocks"},"mark":{"type":"rect"},"encoding":{"x":{"field":"a","type":"quantitative","scale":{"domain":[-3.579,66.55],"nice":false,"zero":false},"axis":null},"x2":{"field":"b"},"y":{"field":"t","type":"quantitative","scale":{"domain":[-0.585,67.84],"reverse":true,"nice":false,"zero":false},"axis":null},"y2":{"field":"u"},"color":{"field":"v","type":"ordinal","legend":null,"scale":{"domain":[0,0.5,1,1.5,2,2.5,3,3.5,4,4.5,5,5.5,6,6.5],"range":["#0e5466","#386c7c","#557f8e","#6f929f","#8aa5b0","#a7bcc4","#c4d2d7","#dfe6ea","#fffaf8","#fae8df","#f6dacb","#efc7b0","#e7b598","#cf8a60"]}}}},
{"data":{"name":"cells"},"mark":{"type":"rect","width":5.9,"height":5.9},"encoding":{"x":{"field":"c","type":"quantitative"},"y":{"field":"t","type":"quantitative"},"color":{"field":"v","type":"ordinal","legend":null}}},
{"data":{"name":"bars"},"mark":{"type":"rect"},"encoding":{"x":{"field":"a","type":"quantitative"},"x2":{"field":"b"},"y":{"field":"t","type":"quantitative"},"y2":{"field":"u"},"fill":{"field":"s","type":"nominal","legend":null,"scale":{"domain":["Cgi","CduN","CduS"],"range":["#9dcce3","#fcc2c2","#e79a9a"]}}}},
{"data":{"name":"barLabels"},"mark":{"type":"text","fontSize":9.6,"color":"#222","baseline":"middle","align":"center"},"encoding":{"x":{"field":"x","type":"quantitative"},"y":{"field":"y","type":"quantitative"},"text":{"field":"s"},"angle":{"field":"r","type":"quantitative","scale":null}}}
]}
]},
{"spacing":14,"vconcat":[
{"width":217,"height":202,"resolve":{"scale":{"color":"independent"}},"layer":[
{"data":{"name":"points"},"mark":{"type":"circle","size":55,"opacity":1},"encoding":{"x":{"field":"hi","type":"quantitative","title":"Hybrid index","scale":{"domain":[-0.0438,1.0488],"nice":false,"zero":false},"axis":{"values":[0,0.25,0.5,0.75,1],"format":".2f","grid":false,"domain":false,"labelFlush":false,"labelOverlap":false,"tickColor":"#222","tickSize":4,"labelColor":"#222","labelFontSize":11,"labelPadding":3,"titleColor":"#222","titleFontSize":11,"titleFontWeight":"normal","titlePadding":4}},"y":{"field":"h","type":"quantitative","title":"Heterozygosity","scale":{"domain":[-0.0488,1.047],"nice":false,"zero":false},"axis":{"values":[0,0.25,0.5,0.75,1],"format":".2f","grid":false,"domain":false,"labelFlush":false,"labelOverlap":false,"tickColor":"#222","tickSize":4,"labelColor":"#222","labelFontSize":11,"labelPadding":5,"titleColor":"#222","titleFontSize":11,"titleFontWeight":"normal","titlePadding":8}},"color":{"field":"sp","type":"nominal","legend":null,"scale":{"domain":["north","south","gigantea"],"range":["#f4a6a6","#d9635f","#3ba3cf"]}}}},
{"data":{"name":"legendText"},"mark":{"type":"text","fontSize":9.5,"fontStyle":"italic","color":"#222","align":"left","baseline":"middle"},"encoding":{"x":{"field":"hi","type":"quantitative"},"y":{"field":"h","type":"quantitative"},"text":{"field":"l"}}},
{"data":{"name":"legendText2"},"mark":{"type":"text","fontSize":9.5,"color":"#222","align":"left","baseline":"middle"},"encoding":{"x":{"field":"hi","type":"quantitative"},"y":{"field":"h","type":"quantitative"},"text":{"field":"l"}}},
{"data":{"values":[{"l":"b","x":-0.293,"y":1.0255}]},"mark":{"type":"text","fontSize":15,"fontWeight":"bold","color":"#111","align":"left","baseline":"alphabetic"},"encoding":{"x":{"field":"x","type":"quantitative"},"y":{"field":"y","type":"quantitative"},"text":{"field":"l"}}},
{"data":{"values":[{"a":-0.0438,"b":1.0488,"t":-0.0488,"u":1.047}]},"mark":{"type":"rect","fill":"transparent","stroke":"#222","strokeWidth":1},"encoding":{"x":{"field":"a","type":"quantitative"},"x2":{"field":"b"},"y":{"field":"t","type":"quantitative"},"y2":{"field":"u"}}}
]},
{"width":217,"height":194,"layer":[
{"data":{"name":"hist"},"mark":{"type":"rect","color":"#595959","stroke":"#e0e0e0","strokeWidth":0.6},"encoding":{"x":{"field":"a","type":"quantitative","title":"Hybrid index","scale":{"domain":[0,1.05],"nice":false,"zero":false},"axis":{"values":[0,0.25,0.5,0.75,1],"format":".2f","grid":false,"domain":false,"labelFlush":false,"labelOverlap":false,"tickColor":"#222","tickSize":4,"labelColor":"#222","labelFontSize":11,"labelPadding":3,"titleColor":"#222","titleFontSize":11,"titleFontWeight":"normal","titlePadding":4}},"x2":{"field":"b"},"y":{"field":"n","type":"quantitative","title":"Frequency","scale":{"domain":[0,7.43],"nice":false},"axis":{"values":[0,2,4,6],"grid":false,"domain":false,"labelFlush":false,"labelOverlap":false,"tickColor":"#222","tickSize":4,"labelColor":"#222","labelFontSize":11,"labelPadding":4,"titleColor":"#222","titleFontSize":11,"titleFontWeight":"normal","titlePadding":9}},"y2":{"datum":0}}},
{"data":{"values":[{"l":"c","x":-0.24,"y":6.82}]},"mark":{"type":"text","fontSize":15,"fontWeight":"bold","color":"#111","align":"left","baseline":"alphabetic"},"encoding":{"x":{"field":"x","type":"quantitative"},"y":{"field":"y","type":"quantitative"},"text":{"field":"l"}}},
{"data":{"values":[{"a":0,"b":1.05,"t":0,"u":7.43}]},"mark":{"type":"rect","fill":"transparent","stroke":"#222","strokeWidth":1},"encoding":{"x":{"field":"a","type":"quantitative"},"x2":{"field":"b"},"y":{"field":"t","type":"quantitative"},"y2":{"field":"u"}}}
]}
]}
]}
